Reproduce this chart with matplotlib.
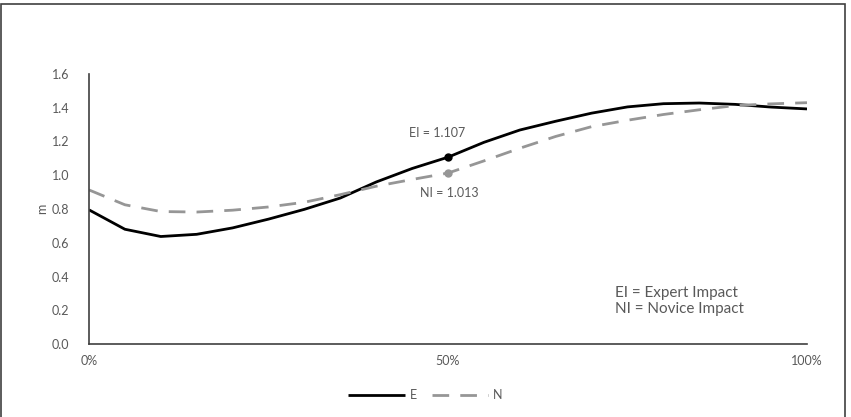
import matplotlib
matplotlib.use("Agg")
import matplotlib.pyplot as plt
from matplotlib.patches import Rectangle
import numpy as np

plt.rcParams['font.family'] = ['Lato', 'DejaVu Sans']

pct = [0, 5, 10, 15, 20, 25, 30, 35, 40, 45, 50, 55, 60, 65, 70, 75, 80, 85, 90, 95, 100]
E = [0.795, 0.680, 0.637, 0.650, 0.688, 0.740, 0.798, 0.865, 0.960, 1.040, 1.107, 1.195,
     1.268, 1.320, 1.368, 1.405, 1.424, 1.428, 1.420, 1.404, 1.393]
N = [0.913, 0.825, 0.785, 0.782, 0.793, 0.812, 0.840, 0.885, 0.935, 0.975, 1.013, 1.085,
     1.160, 1.230, 1.288, 1.326, 1.360, 1.388, 1.413, 1.423, 1.430]
yticks = [0.0, 0.2, 0.4, 0.6, 0.8, 1.0, 1.2, 1.4, 1.6]
xticks = [0, 50, 100]
xticklabels = ['0%', '50%', '100%']
ei_val = 1.107
ni_val = 1.013

txt = '#595959'
gray = '#969696'

fig = plt.figure(figsize=(8.51, 4.17), dpi=100)
ax = fig.add_axes([89/851, (417-344)/417, (807-89)/851, (344-74)/417])

ax.plot(pct, E, color='black', lw=2.0, label='E', solid_capstyle='butt')
ax.plot(pct, N, color=gray, lw=2.0, ls=(0, (6, 4)), label='N')
ax.plot([50], [ei_val], 'o', color='black', ms=5)
ax.plot([50], [ni_val], 'o', color=gray, ms=5)
ax.text(48.5, ei_val + 0.145, f'EI = {ei_val:.3f}', ha='center', va='center', fontsize=9, color=txt)
ax.text(50.2, ni_val - 0.12, f'NI = {ni_val:.3f}', ha='center', va='center', fontsize=9, color=txt)
ax.text(73.2, 0.255, 'EI = Expert Impact\nNI = Novice Impact', ha='left', va='center',
        fontsize=11, color=txt, linespacing=1.2)

ax.set_xlim(0, 100)
ax.set_ylim(0, 1.6)
ax.set_yticks(yticks)
ax.set_yticklabels([f'{v:.1f}' for v in yticks])
ax.set_xticks(xticks)
ax.set_xticklabels(xticklabels)
ax.tick_params(axis='both', length=0, labelsize=9, labelcolor=txt)
ax.tick_params(axis='y', pad=14)
ax.tick_params(axis='x', pad=8)
ax.set_ylabel('m', fontsize=9, color=txt, labelpad=3)
for s in ['top', 'right']:
    ax.spines[s].set_visible(False)
for s in ['left', 'bottom']:
    ax.spines[s].set_color('#404040')
    ax.spines[s].set_linewidth(1.2)

fig.legend(loc='center', bbox_to_anchor=(0.5, 22/417), ncol=2, frameon=False,
           fontsize=9, labelcolor=txt, handlelength=4.5, handletextpad=0.4, columnspacing=1.2)

fig.patches.append(Rectangle((1/851, -0.01), 844/851, 1.0, transform=fig.transFigure,
                             fill=False, edgecolor='#404040', lw=1.2))

fig.savefig('out.png', dpi=100)
